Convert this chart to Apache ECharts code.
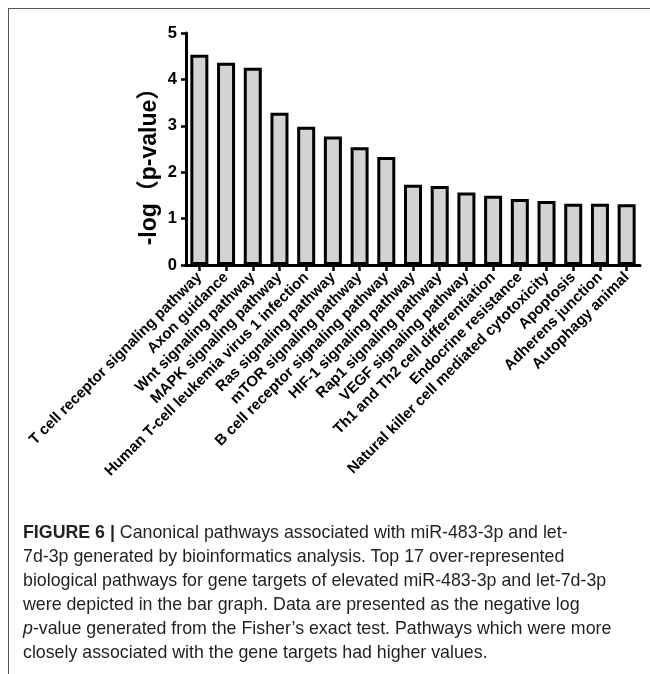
<!DOCTYPE html>
<html>
<head>
<meta charset="utf-8">
<script src="https://cdn.jsdelivr.net/npm/echarts@6/dist/echarts.min.js"></script>
<style>
  html, body { margin: 0; padding: 0; background: #fff; }
  #wrap { position: relative; width: 650px; height: 674px; overflow: hidden; }
  #chart { position: absolute; left: 0; top: 0; width: 650px; height: 674px; }
  #frame { position: absolute; left: 8px; top: 8px; width: 660px; height: 700px;
           border-top: 1.5px solid #555; border-left: 1.5px solid #555; pointer-events: none; }
  #caption { position: absolute; left: 23px; top: 520px; width: 627px;
             font-family: "Liberation Sans", Arial, sans-serif; font-size: 17.8px;
             line-height: 24px; color: #231f20; white-space: nowrap; }
  #caption b { font-weight: bold; }
</style>
</head>
<body>
<div id="wrap">
  <div id="chart"></div>
  <div id="frame"></div>
  <div id="caption">
    <b>FIGURE 6 |</b> Canonical pathways associated with miR-483-3p and let-<br>
    7d-3p generated by bioinformatics analysis. Top 17 over-represented<br>
    biological pathways for gene targets of elevated miR-483-3p and let-7d-3p<br>
    were depicted in the bar graph. Data are presented as the negative log<br>
    <i>p</i>-value generated from the Fisher’s exact test. Pathways which were more<br>
    closely associated with the gene targets had higher values.
  </div>
</div>
<script>
const categories = [
  "T cell receptor signaling pathway",
  "Axon guidance",
  "Wnt signaling pathway",
  "MAPK signaling pathway",
  "Human T-cell leukemia virus 1 infection",
  "Ras signaling pathway",
  "mTOR signaling pathway",
  "B cell receptor signaling pathway",
  "HIF-1 signaling pathway",
  "Rap1 signaling pathway",
  "VEGF signaling pathway",
  "Th1 and Th2 cell differentiation",
  "Endocrine resistance",
  "Natural killer cell mediated cytotoxicity",
  "Apoptosis",
  "Adherens junction",
  "Autophagy animal"
];
const negLogP = [4.53, 4.36, 4.25, 3.28, 2.98, 2.77, 2.54, 2.33, 1.73, 1.70, 1.56, 1.49, 1.42, 1.38, 1.32, 1.32, 1.31];
const yTicks = [0, 1, 2, 3, 4, 5];
const yAxisTitle = "-log（p-value）";

const chart = echarts.init(document.getElementById('chart'), null, { renderer: 'canvas' });
const font = '"Liberation Sans", Arial, "Noto Sans CJK SC", sans-serif';
chart.setOption({
  animation: false,
  backgroundColor: 'transparent',
  grid: { left: 186, right: 10, top: 33, bottom: 409 },
  xAxis: {
    type: 'category',
    data: categories,
    axisLine: { lineStyle: { color: '#000', width: 3 } },
    axisTick: { show: true, alignWithLabel: true, length: 6, lineStyle: { color: '#000', width: 2.5 } },
    axisLabel: { rotate: 45, interval: 0, margin: 10, color: '#000', fontFamily: font, fontWeight: 'bold', fontSize: 15 }
  },
  yAxis: {
    type: 'value',
    min: yTicks[0], max: yTicks[yTicks.length - 1], interval: 1,
    splitLine: { show: false },
    axisLine: { show: true, lineStyle: { color: '#000', width: 3 } },
    axisTick: { show: true, length: 5, lineStyle: { color: '#000', width: 2.5 } },
    axisLabel: { margin: 9, color: '#000', fontFamily: font, fontWeight: 'bold', fontSize: 16.5 }
  },
  graphic: [{
    type: 'text',
    x: 150, y: 161,
    rotation: Math.PI / 2,
    style: {
      text: yAxisTitle,
      fill: '#000',
      font: 'bold 23px ' + font,
      align: 'center',
      verticalAlign: 'middle'
    }
  }],
  series: [{
    type: 'bar',
    data: negLogP,
    barWidth: 18,
    itemStyle: { color: '#d3d3d3', borderColor: '#000', borderWidth: 3 }
  }]
});
</script>
</body>
</html>
